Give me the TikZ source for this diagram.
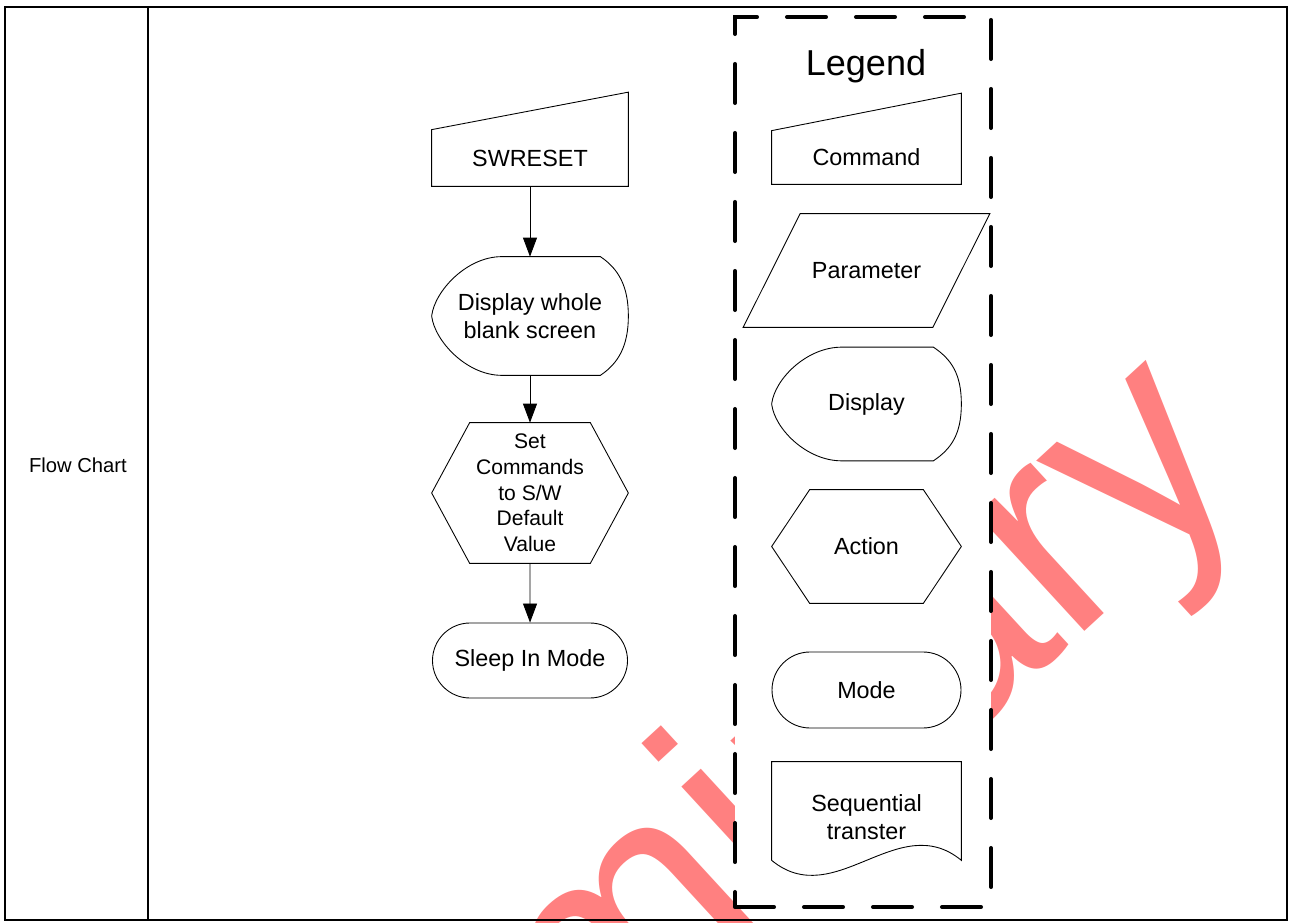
\documentclass[tikz,border=0pt]{standalone}
\usepackage{fontspec}
\setmainfont{Liberation Sans}
\usetikzlibrary{arrows.meta,positioning,shapes.misc,calc}
\definecolor{stamppink}{RGB}{255,128,128}
\tikzset{
  shapeline/.style={draw=black,line width=0.5pt},
  shapebox/.style={inner sep=0pt,minimum width=3.92cm,align=center,font=\fontsize{13.3}{15.9}\selectfont},
  legbox/.style={shapebox,minimum width=3.78cm},
  modebox/.style={rounded rectangle,shapeline},
  arr/.style={-{Triangle[length=0.38cm,width=0.28cm]},draw=black,line width=0.5pt},
  tableline/.style={draw=black,line width=1.2pt},
  legframe/.style={draw=black,fill=white,line width=2.3pt,line cap=round,dash pattern=on 0.78cm off 0.6cm,minimum width=5.12cm,minimum height=17.8cm,inner sep=0pt},
  stamptext/.style={text=stamppink,inner sep=0pt,font=\fontsize{171}{171}\selectfont}
}
% outlines drawn round plain nodes
\newcommand{\CmdOutline}[1]{%
  \draw[shapeline] (#1.south west) -- (#1.south east) -- ([yshift=0.75cm]#1.north east) -- (#1.north west) -- cycle;}
\newcommand{\ParOutline}[1]{%
  \draw[shapeline] ([xshift=-0.57cm]#1.south west) -- ([xshift=-0.57cm]#1.south east)
    -- ([xshift=0.57cm]#1.north east) -- ([xshift=0.57cm]#1.north west) -- cycle;}
\newcommand{\ActOutline}[1]{%
  \draw[shapeline] (#1.west) -- ([xshift=0.76cm]#1.north west) -- ([xshift=-0.76cm]#1.north east)
    -- (#1.east) -- ([xshift=-0.76cm]#1.south east) -- ([xshift=0.76cm]#1.south west) -- cycle;}
\newcommand{\DispOutline}[1]{%
  \draw[shapeline] ([xshift=1.4cm]#1.north west) -- ([xshift=-0.56cm]#1.north east)
    .. controls ([xshift=-0.2cm,yshift=-0.24cm]#1.north east) and ([yshift=0.6cm]#1.east) .. (#1.east)
    .. controls ([yshift=-0.6cm]#1.east) and ([xshift=-0.2cm,yshift=0.24cm]#1.south east) .. ([xshift=-0.56cm]#1.south east)
    -- ([xshift=1.4cm]#1.south west)
    .. controls ([xshift=0.7cm]#1.south west) and ([xshift=0.06cm,yshift=-0.5cm]#1.west) .. (#1.west)
    .. controls ([xshift=0.06cm,yshift=0.5cm]#1.west) and ([xshift=0.7cm]#1.north west) .. ([xshift=1.4cm]#1.north west) -- cycle;}
% wave sits 0.24cm above the node's south side
\newcommand{\SeqOutline}[1]{%
  \draw[shapeline] ([yshift=0.24cm]#1.south west) -- (#1.north west) -- (#1.north east) -- ([yshift=0.24cm]#1.south east)
    .. controls ([xshift=-1.26cm,yshift=1.28cm]#1.south east) and ([xshift=1.26cm,yshift=-0.8cm]#1.south west) .. ([yshift=0.24cm]#1.south west);}

\begin{document}
\begin{tikzpicture}
  \useasboundingbox (0,0) rectangle (25.78,18.44);

  % watermark
  \begin{scope}
    \clip (0,0) rectangle (25.78,18.44);
    \node[stamptext,rotate=42.6,anchor=base west] (stamp) at (2.96,-11.43) {Preliminary};
  \end{scope}

  % table
  \draw[tableline] (0.1,0.04) rectangle (25.74,18.3);
  \draw[tableline,line width=1.7pt] (0.1,0.04) -- (0.1,18.3);
  \draw[tableline,line width=0.8pt] (2.96,0.04) -- (2.96,18.3);
  \node[font=\fontsize{11.5}{13.8}\selectfont] (rowlabel) at (1.56,9.14) {Flow Chart};

  % flow
  \node[shapebox,minimum height=1.12cm] (swreset) at (10.6,15.28) {SWRESET};
  \node[shapebox,minimum height=2.36cm] (blank) at (10.6,12.12) {Display whole\\blank screen};
  \node[shapebox,minimum height=2.8cm,font=\fontsize{12}{14.6}\selectfont] (setdef) at (10.6,8.58) {Set\\Commands\\to S/W\\Default\\Value};
  \node[shapebox,modebox,minimum width=3.9cm,minimum height=1.5cm] (sleep) at (10.6,5.23) {Sleep In Mode};
  \CmdOutline{swreset}
  \DispOutline{blank}
  \ActOutline{setdef}
  \draw[arr] (swreset) -- (blank);
  \draw[arr] (blank) -- (setdef);
  \draw[arr] (setdef) -- (sleep);

  % legend
  \node[legframe] (legend) at (17.26,9.2) {};
  \node[font=\fontsize{20.5}{24}\selectfont,inner sep=0pt] (legtitle) at (17.32,17.12) {Legend};
  \node[legbox,minimum height=1.06cm] (lgcmd) at (17.33,15.29) {Command};
  \node[legbox,minimum height=2.26cm] (lgpar) at (17.33,13.03) {Parameter};
  \node[legbox,minimum height=2.26cm] (lgdisp) at (17.33,10.36) {Display};
  \node[legbox,minimum height=2.26cm] (lgact) at (17.33,7.51) {Action};
  \node[legbox,modebox,minimum height=1.52cm] (lgmode) at (17.33,4.64) {Mode};
  \node[legbox,minimum height=2.2cm] (lgseq) at (17.33,2.1) {Sequential\\transter};
  \CmdOutline{lgcmd}
  \ParOutline{lgpar}
  \DispOutline{lgdisp}
  \ActOutline{lgact}
  \SeqOutline{lgseq}
\end{tikzpicture}
\end{document}
